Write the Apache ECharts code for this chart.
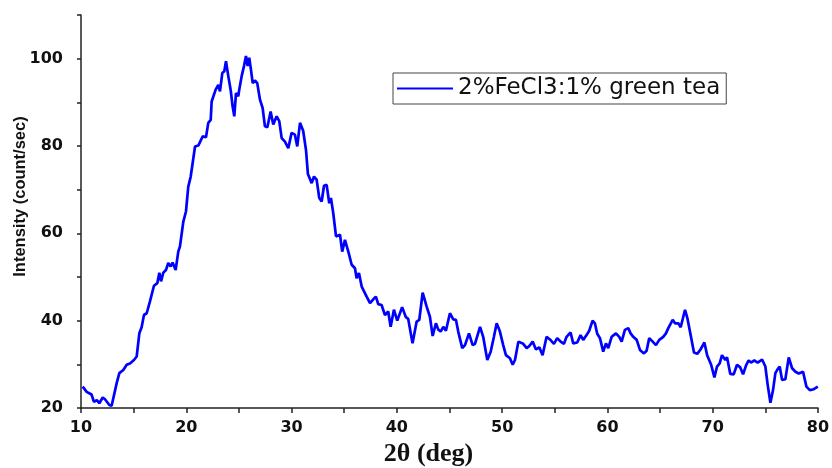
<!DOCTYPE html>
<html>
<head>
<meta charset="utf-8">
<title>XRD pattern</title>
<script src="https://cdn.jsdelivr.net/npm/echarts@6/dist/echarts.min.js"></script>
<style>
  html, body { margin: 0; padding: 0; background: #ffffff; }
  #chart { width: 832px; height: 468px; }
</style>
</head>
<body>
<div id="chart"></div>
<script>
// Diffraction angle 2θ (deg)
const twoTheta = [
  10.16, 10.54, 11.0, 11.23, 11.5, 11.74, 12.06, 12.28, 12.44, 12.69,
  12.91, 13.07, 13.39, 13.64, 14.02, 14.34, 14.65, 15.03, 15.29, 15.54,
  15.76, 15.98, 16.24, 16.55, 16.93, 17.25, 17.44, 17.6, 17.82, 18.07,
  18.29, 18.52, 18.7, 18.99, 19.24, 19.4, 19.72, 19.97, 20.19, 20.42,
  20.67, 20.83, 21.14, 21.3, 21.56, 21.87, 22.09, 22.32, 22.41, 22.57,
  22.79, 23.04, 23.2, 23.42, 23.61, 23.77, 23.99, 24.21, 24.4, 24.56,
  24.72, 24.94, 25.03, 25.26, 25.48, 25.67, 25.83, 25.98, 26.14, 26.31,
  26.52, 26.74, 27.0, 27.25, 27.47, 27.7, 28.01, 28.26, 28.58, 28.83,
  29.06, 29.37, 29.69, 30.0, 30.32, 30.54, 30.8, 31.1, 31.37, 31.55,
  31.91, 32.13, 32.38, 32.63, 32.86, 33.08, 33.33, 33.58, 33.74, 33.96,
  34.22, 34.6, 34.81, 35.07, 35.39, 35.71, 36.02, 36.18, 36.4, 36.66,
  37.13, 37.45, 37.76, 38.01, 38.23, 38.55, 38.87, 39.18, 39.41, 39.72,
  40.04, 40.5, 40.86, 41.08, 41.49, 41.88, 42.13, 42.45, 42.83, 43.14,
  43.4, 43.71, 43.93, 44.16, 44.41, 44.66, 45.04, 45.36, 45.61, 45.83,
  46.21, 46.47, 46.85, 47.2, 47.42, 47.9, 48.2, 48.59, 48.91, 49.22,
  49.48, 49.79, 50.1, 50.36, 50.74, 51.0, 51.22, 51.54, 52.0, 52.33,
  52.58, 52.9, 53.21, 53.53, 53.84, 54.22, 54.54, 54.92, 55.23, 55.56,
  55.87, 56.12, 56.5, 56.75, 57.13, 57.45, 57.7, 58.02, 58.27, 58.59,
  58.81, 59.03, 59.29, 59.6, 59.86, 60.08, 60.4, 60.81, 61.12, 61.35,
  61.66, 61.98, 62.2, 62.45, 62.78, 63.09, 63.47, 63.72, 63.97, 64.3,
  64.61, 64.92, 65.3, 65.56, 65.78, 66.2, 66.42, 66.73, 66.96, 67.37,
  67.59, 67.84, 68.22, 68.53, 68.84, 69.0, 69.21, 69.47, 69.85, 70.16,
  70.41, 70.66, 70.88, 71.2, 71.36, 71.67, 71.99, 72.31, 72.62, 72.88,
  73.19, 73.41, 73.64, 73.95, 74.27, 74.69, 75.0, 75.22, 75.48, 75.73,
  75.95, 76.17, 76.36, 76.59, 76.9, 77.22, 77.54, 77.86, 78.17, 78.58,
  78.9, 79.22, 79.6, 79.98
];

// Intensity (count/sec)
const intensity = [
  24.9, 23.7, 23.1, 21.4, 21.8, 21.1, 22.4, 22.0, 22.4, 20.7,
  20.5, 20.9, 25.7, 28.0, 28.7, 29.9, 30.2, 31.0, 31.8, 37.1,
  38.5, 41.3, 41.7, 44.4, 48.0, 48.6, 51.0, 49.0, 51.0, 51.6,
  53.2, 52.4, 53.3, 51.6, 55.8, 57.0, 62.7, 65.0, 70.7, 73.0,
  77.2, 79.9, 80.1, 79.8, 82.2, 82.0, 85.3, 86.0, 90.2, 90.6,
  92.9, 94.0, 92.5, 96.7, 97.1, 99.4, 96.0, 92.9, 89.1, 86.8,
  92.1, 91.4, 92.9, 96.0, 98.3, 100.6, 98.3, 100.2, 97.5, 94.4,
  95.0, 94.4, 90.6, 88.7, 84.5, 84.3, 87.9, 84.9, 86.8, 85.7,
  81.8, 81.0, 79.5, 83.0, 82.6, 79.9, 85.3, 83.5, 79.1, 73.6,
  71.5, 73.0, 72.3, 68.1, 67.3, 70.9, 71.1, 66.9, 68.1, 64.6,
  59.3, 59.7, 55.8, 58.5, 55.8, 52.8, 52.0, 49.7, 50.9, 47.8,
  45.5, 44.0, 44.9, 45.5, 43.8, 43.6, 41.3, 42.1, 38.6, 42.5,
  40.0, 43.1, 40.8, 40.4, 34.8, 39.8, 40.2, 46.4, 43.2, 40.9,
  36.5, 39.4, 38.0, 37.5, 38.6, 37.7, 41.7, 40.3, 40.2, 37.5,
  33.7, 34.4, 37.1, 34.4, 34.7, 38.6, 36.3, 31.0, 32.9, 36.3,
  39.4, 37.5, 34.4, 32.1, 31.4, 29.9, 31.0, 35.2, 34.7, 33.7,
  34.2, 35.2, 33.4, 33.9, 32.1, 36.3, 35.7, 34.7, 36.0, 35.2,
  34.7, 36.3, 37.3, 34.8, 35.0, 36.7, 35.6, 36.7, 37.7, 40.0,
  39.4, 37.0, 36.0, 32.9, 34.8, 33.7, 36.3, 37.1, 36.3, 35.2,
  37.9, 38.3, 37.1, 36.3, 35.6, 33.3, 32.5, 33.1, 36.0, 35.2,
  34.4, 35.6, 36.3, 37.1, 38.3, 40.2, 39.4, 39.4, 38.5, 42.5,
  40.6, 37.5, 32.7, 32.4, 33.4, 33.1, 35.0, 32.1, 29.9, 27.0,
  29.5, 30.2, 32.1, 31.0, 31.6, 27.8, 27.7, 29.9, 29.3, 27.7,
  29.9, 30.9, 30.4, 30.9, 30.4, 31.1, 29.5, 25.3, 21.2, 24.1,
  28.0, 28.9, 29.5, 26.4, 26.6, 31.6, 29.1, 28.3, 27.9, 28.3,
  24.9, 24.1, 24.3, 24.9
];

const seriesName = '2%FeCl3:1% green tea';
const xTitle = '2θ (deg)';
const yTitle = 'Intensity (count/sec)';

const points = twoTheta.map((t, i) => [t, intensity[i]]);

const chart = echarts.init(document.getElementById('chart'), null, { renderer: 'canvas' });

const axisColor = '#222222';
const labelFont = {
  color: '#111111',
  fontFamily: 'DejaVu Sans',
  fontWeight: 'bold',
  fontSize: 16
};

chart.setOption({
  animation: false,
  backgroundColor: '#ffffff',
  grid: {
    left: 81, right: 14, top: 15, bottom: 60,
    containLabel: false,
    outerBoundsMode: 'none'
  },
  legend: {
    // plain line swatch, no point marker
    data: [{ name: seriesName, icon: 'rect' }],
    left: 393,
    top: 73,
    orient: 'horizontal',
    padding: [4, 6, 4, 4],
    borderColor: '#444444',
    borderWidth: 1,
    itemWidth: 56,
    itemHeight: 2,
    itemGap: 5,
    itemStyle: { color: '#0000ff', borderWidth: 0 },
    textStyle: {
      color: '#111111',
      fontFamily: 'DejaVu Sans',
      fontSize: 23,
      lineHeight: 21,
      padding: [0, 0, 0, 0]
    }
  },
  xAxis: {
    type: 'value',
    min: 10,
    max: 80,
    interval: 5,
    name: xTitle,
    nameLocation: 'middle',
    nameGap: 32,
    nameTextStyle: {
      color: '#111111',
      fontFamily: 'Liberation Serif',
      fontWeight: 'bold',
      fontSize: 26,
      padding: [0, 42, 0, 0]
    },
    axisLine: { show: true, onZero: false, lineStyle: { color: axisColor, width: 1.5 } },
    axisTick: { show: true, inside: false, length: 5, lineStyle: { color: axisColor, width: 1.5 } },
    splitLine: { show: false },
    axisLabel: Object.assign({
      margin: 12,
      formatter: v => (v % 10 === 0 ? String(v) : '')
    }, labelFont)
  },
  yAxis: {
    type: 'value',
    min: 20,
    max: 110,
    interval: 10,
    name: yTitle,
    nameLocation: 'middle',
    nameGap: 52,
    nameMoveOverlap: false,
    nameRotate: 90,
    nameTextStyle: {
      color: '#111111',
      fontFamily: 'Liberation Sans',
      fontWeight: 'bold',
      fontSize: 16.5,
      padding: [0, 0, 0, 30]
    },
    axisLine: { show: true, onZero: false, lineStyle: { color: axisColor, width: 1.5 } },
    axisTick: { show: true, inside: false, length: 4, lineStyle: { color: axisColor, width: 1.5 } },
    splitLine: { show: false },
    axisLabel: Object.assign({
      margin: 18,
      formatter: v => (v % 20 === 0 && v <= 100 ? String(v) : '')
    }, labelFont)
  },
  series: [{
    name: seriesName,
    type: 'line',
    data: points,
    symbol: 'none',
    showSymbol: false,
    smooth: false,
    sampling: null,
    clip: true,
    lineStyle: { color: '#0000ff', width: 2.7 },
    itemStyle: { color: '#0000ff' }
  }]
});
</script>
</body>
</html>
